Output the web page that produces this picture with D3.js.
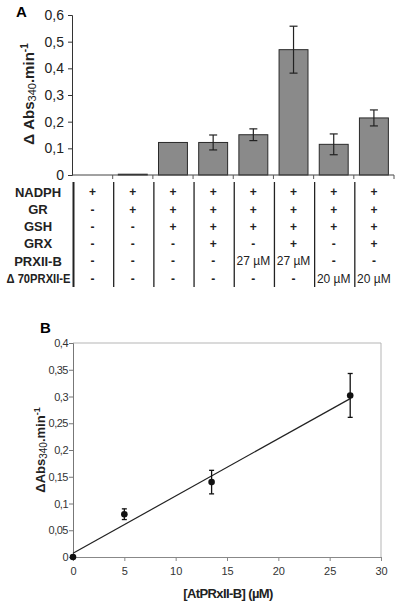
<!DOCTYPE html>
<html><head><meta charset="utf-8">
<script src="https://cdn.jsdelivr.net/npm/d3@7"></script>
<style>body{margin:0;background:#fff}svg{display:block}text{font-family:Arial,"Liberation Sans",sans-serif}</style>
</head><body><svg id="c" width="400" height="604"></svg>
<script>
// Panel A data
const conditions = ["c1","c2","c3","c4","c5","c6","c7","c8"];
const activityA = [0, 0.003, 0.122, 0.122, 0.151, 0.470, 0.115, 0.214];
const errorA = [null, null, null, 0.028, 0.022, 0.088, 0.039, 0.030];
const yTicksA = [0, 0.1, 0.2, 0.3, 0.4, 0.5, 0.6];
const rowLabels = ["NADPH", "GR", "GSH", "GRX", "PRXII-B", "\u0394 70PRXII-E"];
const tableNADPH = ["+","+","+","+","+","+","+","+"];
const tableGR    = ["-","+","+","+","+","+","+","+"];
const tableGSH   = ["-","-","+","+","+","+","+","+"];
const tableGRX   = ["-","-","-","+","-","+","-","+"];
const tablePRX   = ["-","-","-","-","27 \u00b5M","27 \u00b5M","-","-"];
const tableD70   = ["-","-","-","-","-","-","20 \u00b5M","20 \u00b5M"];
// Panel B data
const concB = [0, 5, 13.5, 27];
const activityB = [0, 0.080, 0.140, 0.302];
const errorB = [0, 0.010, 0.022, 0.041];
const fitLine = [[0, 0.007], [27, 0.296]];
const xTicksB = [0, 5, 10, 15, 20, 25, 30];
const yTicksB = [0, 0.05, 0.1, 0.15, 0.2, 0.25, 0.3, 0.35, 0.4];

const svg = d3.select("#c");
const fmt = v => String(+v.toFixed(2)).replace(".", ",");

// ---------- Panel A ----------
const xA = d3.scaleBand().domain(conditions).range([72.5, 394]).paddingInner(0.28).paddingOuter(0.14);
const xAfull = d3.scaleBand().domain(conditions).range([72.5, 394]);
const yA = d3.scaleLinear().domain([0, 0.6]).range([175, 15]);
const gA = svg.append("g");

gA.append("text").attr("x", 16).attr("y", 17).attr("font-size", 15).attr("font-weight", "bold").text("A");

const yAxA = gA.append("g").attr("transform", "translate(72,0)")
  .call(d3.axisLeft(yA).tickValues(yTicksA).tickSize(4).tickFormat(fmt));
yAxA.select(".domain").attr("stroke", "#333");
yAxA.selectAll(".tick line").attr("stroke", "#333");
yAxA.selectAll("text").attr("font-size", 14).attr("fill", "#222").attr("x", -8);

gA.selectAll(".bar").data(activityA).join("rect")
  .attr("x", (d, i) => xA(conditions[i]))
  .attr("width", xA.bandwidth())
  .attr("y", d => yA(d))
  .attr("height", d => yA(0) - yA(d))
  .attr("fill", "#8a8a8a").attr("stroke", "#2a2a2a").attr("stroke-width", 1)
  .attr("display", d => d > 0 ? null : "none");

// x axis line with boundary ticks
gA.append("line").attr("x1", 72).attr("x2", 394).attr("y1", yA(0)).attr("y2", yA(0)).attr("stroke", "#444");
gA.selectAll(".bt").data(conditions).join("line")
  .attr("x1", (d) => xAfull(d) + xAfull.bandwidth())
  .attr("x2", (d) => xAfull(d) + xAfull.bandwidth())
  .attr("y1", yA(0)).attr("y2", yA(0) + 4).attr("stroke", "#555");

// error bars
const eb = gA.selectAll(".eb").data(activityA.map((v, i) => ({v, e: errorA[i], c: conditions[i]})).filter(d => d.e != null)).join("g");
eb.append("line").attr("x1", d => xA(d.c) + xA.bandwidth() / 2).attr("x2", d => xA(d.c) + xA.bandwidth() / 2)
  .attr("y1", d => yA(d.v + d.e)).attr("y2", d => yA(d.v - d.e)).attr("stroke", "#222").attr("stroke-width", 1.2);
[1, -1].forEach(s => eb.append("line")
  .attr("x1", d => xA(d.c) + xA.bandwidth() / 2 - 4).attr("x2", d => xA(d.c) + xA.bandwidth() / 2 + 4)
  .attr("y1", d => yA(d.v + s * d.e)).attr("y2", d => yA(d.v + s * d.e)).attr("stroke", "#222").attr("stroke-width", 1.2));

// y title A
const tA = gA.append("text").attr("transform", "translate(34,94) rotate(-90)").attr("text-anchor", "middle")
  .attr("font-size", 15).attr("font-weight", "bold").attr("fill", "#222");
tA.append("tspan").text("\u0394 Abs");
tA.append("tspan").attr("font-size", 11).attr("font-weight", "normal").attr("dy", 2).text("340");
tA.append("tspan").attr("dy", -2).text(".min");
tA.append("tspan").attr("font-size", 10).attr("dy", -6).text("-1");

// table
const tableRows = [tableNADPH, tableGR, tableGSH, tableGRX, tablePRX, tableD70];
const rowY = [192, 209.3, 226.6, 243.9, 261.2, 278.5];
rowLabels.forEach((lab, r) => {
  const t = gA.append("text").attr("x", 38).attr("y", rowY[r]).attr("dy", "0.35em").attr("text-anchor", "middle")
    .attr("font-size", 13).attr("font-weight", "bold").attr("fill", "#222").text(lab);
  if (lab.length > 8) t.attr("textLength", 64).attr("lengthAdjust", "spacingAndGlyphs").attr("x", 38.5);
  tableRows[r].forEach((v, i) => {
    const isConc = v.length > 1;
    gA.append("text").attr("x", xAfull(conditions[i]) + xAfull.bandwidth() / 2).attr("y", rowY[r]).attr("dy", "0.35em")
      .attr("text-anchor", "middle").attr("font-size", 12).attr("font-weight", isConc ? "normal" : "bold")
      .attr("fill", "#222").text(v);
  });
});
const vlines = [72.5].concat(conditions.slice(0, 7).map(c => xAfull(c) + xAfull.bandwidth()));
gA.selectAll(".vl").data(vlines).join("line")
  .attr("x1", d => d + 1).attr("x2", d => d + 1).attr("y1", 182).attr("y2", 287)
  .attr("stroke", "#222").attr("stroke-width", (d, i) => i === 0 ? 2 : 1.3);

// ---------- Panel B ----------
const xB = d3.scaleLinear().domain([0, 30]).range([73, 381]);
const yB = d3.scaleLinear().domain([0, 0.4]).range([557, 343]);
const gB = svg.append("g");
gB.append("text").attr("x", 40).attr("y", 333).attr("font-size", 15).attr("font-weight", "bold").text("B");

gB.append("path").attr("d", `M${xB(0)},${yB(0.4)}H${xB(30)}V${yB(0)}`).attr("fill", "none").attr("stroke", "#b5b5b5");
const xAxB = gB.append("g").attr("transform", `translate(0,${yB(0)})`)
  .call(d3.axisBottom(xB).tickValues(xTicksB).tickSize(4).tickFormat(d3.format("d")));
xAxB.select(".domain").attr("stroke", "#888");
xAxB.selectAll(".tick line").attr("stroke", "#888");
xAxB.selectAll("text").attr("font-size", 11).attr("fill", "#333").attr("y", 10);
const yAxB = gB.append("g").attr("transform", `translate(${xB(0)},0)`)
  .call(d3.axisLeft(yB).tickValues(yTicksB).tickSize(4).tickFormat(fmt));
yAxB.select(".domain").attr("stroke", "#777");
yAxB.selectAll(".tick line").attr("stroke", "#777");
yAxB.selectAll("text").attr("font-size", 11).attr("fill", "#333").attr("letter-spacing", -0.5).attr("x", -5);

gB.append("path").datum(fitLine).attr("d", d3.line().x(d => xB(d[0])).y(d => yB(d[1])))
  .attr("stroke", "#222").attr("stroke-width", 1.2).attr("fill", "none");

const pts = concB.map((c, i) => ({c, v: activityB[i], e: errorB[i]}));
const pe = gB.selectAll(".pe").data(pts.filter(d => d.e > 0)).join("g");
pe.append("line").attr("x1", d => xB(d.c)).attr("x2", d => xB(d.c)).attr("y1", d => yB(d.v + d.e)).attr("y2", d => yB(d.v - d.e))
  .attr("stroke", "#111").attr("stroke-width", 1.3);
[1, -1].forEach(s => pe.append("line").attr("x1", d => xB(d.c) - 2.5).attr("x2", d => xB(d.c) + 2.5)
  .attr("y1", d => yB(d.v + s * d.e)).attr("y2", d => yB(d.v + s * d.e)).attr("stroke", "#111").attr("stroke-width", 1.3));
gB.selectAll(".pt").data(pts).join("circle").attr("cx", d => xB(d.c)).attr("cy", d => yB(d.v)).attr("r", 3.3).attr("fill", "#111");

const tB = gB.append("text").attr("transform", "translate(45,450) rotate(-90)").attr("text-anchor", "middle")
  .attr("font-size", 13).attr("font-weight", "bold").attr("fill", "#222");
tB.append("tspan").text("\u0394Abs");
tB.append("tspan").attr("font-size", 10).attr("font-weight", "normal").attr("dy", 2).text("340");
tB.append("tspan").attr("dy", -2).text(".min");
tB.append("tspan").attr("font-size", 9).attr("dy", -5).text("-1");

gB.append("text").attr("x", 228).attr("y", 598).attr("text-anchor", "middle").attr("font-size", 13)
  .attr("font-weight", "bold").attr("letter-spacing", -0.6).attr("fill", "#222").text("[AtPRxII-B] (\u00b5M)");
</script></body></html>
